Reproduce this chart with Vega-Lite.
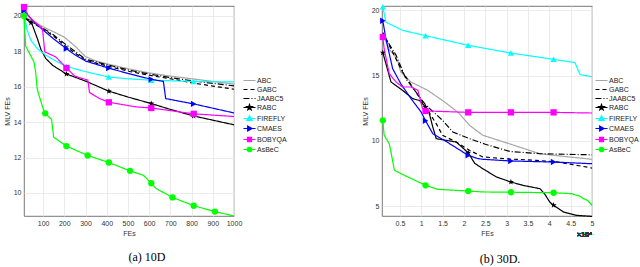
{
  "$schema": "https://vega.github.io/schema/vega-lite/v6.json",
  "padding": {"left": 2, "top": 3, "right": 0, "bottom": 0},
  "background": "white",
  "bounds": "flush",
  "spacing": 148,
  "config": {
    "view": {"stroke": "#555", "strokeWidth": 0.8},
    "axis": {"labelFont": "Liberation Sans", "labelFontSize": 7, "titleFont": "Liberation Sans", "titleFontSize": 7, "titleFontWeight": "normal", "labelColor": "#333", "titleColor": "#333", "domain": false, "ticks": false, "gridColor": "#e6e6e6", "gridWidth": 0.8, "labelPadding": 3, "titlePadding": 3, "labelOverlap": false, "labelFlush": false, "format": "~r"},
    "legend": {"labelFont": "Liberation Sans", "labelFontSize": 7, "labelColor": "#222", "symbolSize": 86, "rowPadding": 0, "labelOffset": 2, "padding": 0, "orient": "none", "title": null},
    "title": {"font": "Liberation Serif", "fontSize": 12, "fontWeight": "normal", "color": "#000", "orient": "bottom", "anchor": "middle", "offset": 16}
  },
  "datasets": {
    "d10": [
      {"a":"ABC","x":10,"y":19.95},{"a":"ABC","x":50,"y":19.72},{"a":"ABC","x":100,"y":19.38},{"a":"ABC","x":150,"y":19.1},{"a":"ABC","x":200,"y":18.8},{"a":"ABC","x":250,"y":18.3},{"a":"ABC","x":300,"y":17.7},{"a":"ABC","x":350,"y":17.45},{"a":"ABC","x":400,"y":17.3},{"a":"ABC","x":500,"y":17.02},{"a":"ABC","x":600,"y":16.78},{"a":"ABC","x":700,"y":16.6},{"a":"ABC","x":800,"y":16.45},{"a":"ABC","x":900,"y":16.3},{"a":"ABC","x":1000,"y":16.15},
      {"a":"GABC","x":10,"y":19.9},{"a":"GABC","x":50,"y":19.62},{"a":"GABC","x":100,"y":19.25},{"a":"GABC","x":150,"y":18.85},{"a":"GABC","x":200,"y":18.35},{"a":"GABC","x":250,"y":17.9},{"a":"GABC","x":300,"y":17.5},{"a":"GABC","x":350,"y":17.33},{"a":"GABC","x":400,"y":17.18},{"a":"GABC","x":500,"y":16.88},{"a":"GABC","x":600,"y":16.65},{"a":"GABC","x":700,"y":16.45},{"a":"GABC","x":800,"y":16.22},{"a":"GABC","x":900,"y":16.04},{"a":"GABC","x":1000,"y":15.86},
      {"a":"JAABC5","x":10,"y":19.9},{"a":"JAABC5","x":50,"y":19.66},{"a":"JAABC5","x":100,"y":19.3},{"a":"JAABC5","x":150,"y":18.92},{"a":"JAABC5","x":200,"y":18.45},{"a":"JAABC5","x":250,"y":18.0},{"a":"JAABC5","x":300,"y":17.56},{"a":"JAABC5","x":350,"y":17.4},{"a":"JAABC5","x":400,"y":17.25},{"a":"JAABC5","x":500,"y":16.95},{"a":"JAABC5","x":600,"y":16.72},{"a":"JAABC5","x":700,"y":16.52},{"a":"JAABC5","x":800,"y":16.34},{"a":"JAABC5","x":900,"y":16.19},{"a":"JAABC5","x":1000,"y":16.05},
      {"a":"RABC","x":10,"y":19.9},{"a":"RABC","x":43,"y":19.62,"m":1},{"a":"RABC","x":50,"y":19.47},{"a":"RABC","x":73,"y":18.72},{"a":"RABC","x":90,"y":18.1},{"a":"RABC","x":113,"y":17.59},{"a":"RABC","x":146,"y":17.2},{"a":"RABC","x":210,"y":16.72,"m":1},{"a":"RABC","x":304,"y":16.3},{"a":"RABC","x":410,"y":15.75,"m":1},{"a":"RABC","x":500,"y":15.42},{"a":"RABC","x":610,"y":15.05,"m":1},{"a":"RABC","x":700,"y":14.72},{"a":"RABC","x":810,"y":14.35,"m":1},{"a":"RABC","x":1000,"y":13.85},
      {"a":"FIREFLY","x":10,"y":20.1,"m":1},{"a":"FIREFLY","x":25,"y":19.2},{"a":"FIREFLY","x":42,"y":18.63},{"a":"FIREFLY","x":73,"y":18.15},{"a":"FIREFLY","x":113,"y":17.78},{"a":"FIREFLY","x":168,"y":17.4},{"a":"FIREFLY","x":210,"y":17.15,"m":1},{"a":"FIREFLY","x":300,"y":16.85},{"a":"FIREFLY","x":410,"y":16.55,"m":1},{"a":"FIREFLY","x":500,"y":16.45},{"a":"FIREFLY","x":610,"y":16.37,"m":1},{"a":"FIREFLY","x":810,"y":16.3,"m":1},{"a":"FIREFLY","x":1000,"y":16.27},
      {"a":"CMAES","x":10,"y":20.3,"m":1},{"a":"CMAES","x":50,"y":19.75},{"a":"CMAES","x":100,"y":19.2},{"a":"CMAES","x":150,"y":18.7},{"a":"CMAES","x":210,"y":18.15,"m":1},{"a":"CMAES","x":250,"y":17.8},{"a":"CMAES","x":300,"y":17.45},{"a":"CMAES","x":410,"y":17.05,"m":1},{"a":"CMAES","x":500,"y":16.75},{"a":"CMAES","x":610,"y":16.42,"m":1},{"a":"CMAES","x":667,"y":16.3},{"a":"CMAES","x":678,"y":15.33},{"a":"CMAES","x":810,"y":15.03,"m":1},{"a":"CMAES","x":1000,"y":14.52},
      {"a":"BOBYQA","x":10,"y":20.5,"m":1},{"a":"BOBYQA","x":34,"y":19.94},{"a":"BOBYQA","x":97,"y":19.28},{"a":"BOBYQA","x":108,"y":17.97},{"a":"BOBYQA","x":160,"y":17.68},{"a":"BOBYQA","x":210,"y":17.06,"m":1},{"a":"BOBYQA","x":250,"y":16.6},{"a":"BOBYQA","x":311,"y":16.37},{"a":"BOBYQA","x":319,"y":15.67},{"a":"BOBYQA","x":367,"y":15.33},{"a":"BOBYQA","x":410,"y":15.12,"m":1},{"a":"BOBYQA","x":541,"y":14.86},{"a":"BOBYQA","x":610,"y":14.8,"m":1},{"a":"BOBYQA","x":810,"y":14.47,"m":1},{"a":"BOBYQA","x":1000,"y":14.32},
      {"a":"AsBeC","x":10,"y":20,"m":1},{"a":"AsBeC","x":18,"y":18.3},{"a":"AsBeC","x":35,"y":17.9},{"a":"AsBeC","x":57,"y":17.4},{"a":"AsBeC","x":65,"y":16.84},{"a":"AsBeC","x":72,"y":15.9},{"a":"AsBeC","x":81,"y":15.5},{"a":"AsBeC","x":102,"y":14.7},{"a":"AsBeC","x":110,"y":14.5,"m":1},{"a":"AsBeC","x":140,"y":14.15},{"a":"AsBeC","x":150,"y":13.15},{"a":"AsBeC","x":210,"y":12.65,"m":1},{"a":"AsBeC","x":310,"y":12.12,"m":1},{"a":"AsBeC","x":410,"y":11.72,"m":1},{"a":"AsBeC","x":510,"y":11.25,"m":1},{"a":"AsBeC","x":573,"y":11.0},{"a":"AsBeC","x":610,"y":10.55,"m":1},{"a":"AsBeC","x":633,"y":10.25},{"a":"AsBeC","x":710,"y":9.75,"m":1},{"a":"AsBeC","x":810,"y":9.28,"m":1},{"a":"AsBeC","x":910,"y":8.95,"m":1},{"a":"AsBeC","x":1000,"y":8.7}
    ],
    "d30": [
      {"a":"ABC","x":0.1,"y":18.2},{"a":"ABC","x":0.25,"y":17.0},{"a":"ABC","x":0.37,"y":16.56},{"a":"ABC","x":0.45,"y":16.1},{"a":"ABC","x":0.52,"y":15.28},{"a":"ABC","x":0.76,"y":14.51},{"a":"ABC","x":1.15,"y":13.88},{"a":"ABC","x":1.54,"y":13.0},{"a":"ABC","x":1.86,"y":12.2},{"a":"ABC","x":2.13,"y":11.2},{"a":"ABC","x":2.44,"y":10.44},{"a":"ABC","x":3.06,"y":9.79},{"a":"ABC","x":3.77,"y":9.03},{"a":"ABC","x":4.4,"y":8.8},{"a":"ABC","x":5.0,"y":8.6},
      {"a":"GABC","x":0.1,"y":18.3},{"a":"GABC","x":0.33,"y":16.8},{"a":"GABC","x":0.56,"y":15.28},{"a":"GABC","x":1.03,"y":12.98},{"a":"GABC","x":1.35,"y":11.33},{"a":"GABC","x":1.5,"y":10.43},{"a":"GABC","x":1.82,"y":9.92},{"a":"GABC","x":2.13,"y":9.29},{"a":"GABC","x":2.44,"y":8.78},{"a":"GABC","x":3.07,"y":8.62},{"a":"GABC","x":3.7,"y":8.52},{"a":"GABC","x":4.17,"y":8.4},{"a":"GABC","x":4.64,"y":8.14},{"a":"GABC","x":5.0,"y":7.93},
      {"a":"JAABC5","x":0.1,"y":18.2},{"a":"JAABC5","x":0.41,"y":16.56},{"a":"JAABC5","x":0.64,"y":14.77},{"a":"JAABC5","x":1.11,"y":12.73},{"a":"JAABC5","x":1.5,"y":11.58},{"a":"JAABC5","x":1.74,"y":10.69},{"a":"JAABC5","x":2.13,"y":10.18},{"a":"JAABC5","x":2.5,"y":9.75},{"a":"JAABC5","x":3.07,"y":9.2},{"a":"JAABC5","x":3.77,"y":9.03},{"a":"JAABC5","x":5.0,"y":8.94},
      {"a":"RABC","x":0.1,"y":16.76,"m":1},{"a":"RABC","x":0.29,"y":14.52},{"a":"RABC","x":0.56,"y":13.88},{"a":"RABC","x":0.8,"y":13.24},{"a":"RABC","x":0.96,"y":13.1},{"a":"RABC","x":1.1,"y":12.6,"m":1},{"a":"RABC","x":1.18,"y":12.22},{"a":"RABC","x":1.27,"y":11.07},{"a":"RABC","x":1.35,"y":10.18},{"a":"RABC","x":1.82,"y":9.92},{"a":"RABC","x":2.1,"y":9.1,"m":1},{"a":"RABC","x":2.25,"y":8.3},{"a":"RABC","x":2.44,"y":7.88},{"a":"RABC","x":2.76,"y":7.25},{"a":"RABC","x":3.1,"y":6.86,"m":1},{"a":"RABC","x":3.39,"y":6.6},{"a":"RABC","x":3.78,"y":6.35},{"a":"RABC","x":3.9,"y":5.9},{"a":"RABC","x":4.01,"y":5.33},{"a":"RABC","x":4.1,"y":5.08,"m":1},{"a":"RABC","x":4.33,"y":4.57},{"a":"RABC","x":4.64,"y":4.31},{"a":"RABC","x":5.0,"y":4.23},
      {"a":"FIREFLY","x":0.1,"y":20.28,"m":1},{"a":"FIREFLY","x":0.17,"y":19.1},{"a":"FIREFLY","x":0.56,"y":18.47},{"a":"FIREFLY","x":1.1,"y":18.06,"m":1},{"a":"FIREFLY","x":2.1,"y":17.32,"m":1},{"a":"FIREFLY","x":3.1,"y":16.73,"m":1},{"a":"FIREFLY","x":4.1,"y":16.25,"m":1},{"a":"FIREFLY","x":4.6,"y":16.0},{"a":"FIREFLY","x":4.72,"y":15.08},{"a":"FIREFLY","x":5.0,"y":14.92},
      {"a":"CMAES","x":0.1,"y":19.2,"m":1},{"a":"CMAES","x":0.17,"y":17.83},{"a":"CMAES","x":0.33,"y":15.53},{"a":"CMAES","x":0.52,"y":14.38},{"a":"CMAES","x":0.76,"y":13.24},{"a":"CMAES","x":1.0,"y":12.2},{"a":"CMAES","x":1.1,"y":11.55,"m":1},{"a":"CMAES","x":1.27,"y":10.56},{"a":"CMAES","x":1.54,"y":10.05},{"a":"CMAES","x":2.1,"y":8.9,"m":1},{"a":"CMAES","x":2.33,"y":8.65},{"a":"CMAES","x":2.44,"y":8.6},{"a":"CMAES","x":3.1,"y":8.47,"m":1},{"a":"CMAES","x":4.1,"y":8.39,"m":1},{"a":"CMAES","x":5.0,"y":8.26},
      {"a":"BOBYQA","x":0.1,"y":17.96,"m":1},{"a":"BOBYQA","x":0.13,"y":17.06},{"a":"BOBYQA","x":0.25,"y":15.15},{"a":"BOBYQA","x":0.41,"y":14.51},{"a":"BOBYQA","x":0.56,"y":14.13},{"a":"BOBYQA","x":0.76,"y":14.13},{"a":"BOBYQA","x":0.92,"y":13.88},{"a":"BOBYQA","x":1.03,"y":12.47},{"a":"BOBYQA","x":1.1,"y":12.3,"m":1},{"a":"BOBYQA","x":2.1,"y":12.19,"m":1},{"a":"BOBYQA","x":3.1,"y":12.19,"m":1},{"a":"BOBYQA","x":4.1,"y":12.19,"m":1},{"a":"BOBYQA","x":5.0,"y":12.14},
      {"a":"AsBeC","x":0.1,"y":11.58,"m":1},{"a":"AsBeC","x":0.13,"y":10.44},{"a":"AsBeC","x":0.25,"y":9.79},{"a":"AsBeC","x":0.29,"y":9.16},{"a":"AsBeC","x":0.37,"y":7.76},{"a":"AsBeC","x":0.6,"y":7.38},{"a":"AsBeC","x":1.1,"y":6.61,"m":1},{"a":"AsBeC","x":1.39,"y":6.3},{"a":"AsBeC","x":2.1,"y":6.17,"m":1},{"a":"AsBeC","x":2.44,"y":6.1},{"a":"AsBeC","x":3.1,"y":6.08,"m":1},{"a":"AsBeC","x":4.1,"y":6.04,"m":1},{"a":"AsBeC","x":4.52,"y":5.97},{"a":"AsBeC","x":4.72,"y":5.77},{"a":"AsBeC","x":4.8,"y":5.59},{"a":"AsBeC","x":4.9,"y":5.45},{"a":"AsBeC","x":5.0,"y":5.08}
    ]
  },
  "resolve": {"scale": {"x": "independent", "y": "independent", "color": "independent", "shape": "independent", "strokeDash": "independent"}, "legend": {"color": "independent"}},
  "hconcat": [
    {
      "name": "L",
      "width": 210, "height": 210,
      "title": {"text": "(a) 10D", "dx": 18},
      "data": {"name": "d10"},
      "encoding": {
        "x": {"field": "x", "type": "quantitative", "scale": {"domain": [10, 1000], "nice": false, "zero": false}, "axis": {"title": "FEs", "values": [100,200,300,400,500,600,700,800,900,1000]}},
        "y": {"field": "y", "type": "quantitative", "scale": {"domain": [8.7, 20.56], "nice": false, "zero": false}, "axis": {"title": "MLV FEs", "values": [10,12,14,16,18,20]}},
        "color": {"field": "a", "type": "nominal", "scale": {"domain": ["ABC","GABC","JAABC5","RABC","FIREFLY","CMAES","BOBYQA","AsBeC"], "range": ["#a6a6a6","#000000","#000000","#000000","#00ffff","#0000ff","#ff00ff","#00ff00"]},
          "legend": {"legendX": 220, "legendY": 69, "encode": {"symbols": {"update": {
            "shape": {"signal": "datum.value==='RABC'?'M-1.3,0H1.3M0,-0.65L0.153,-0.21L0.618,-0.2L0.247,0.08L0.382,0.526L0,0.26L-0.382,0.526L-0.247,0.08L-0.618,-0.2L-0.153,-0.21Z':datum.value==='FIREFLY'?'M-1.3,0H1.3M0,-0.6L0.55,0.4L-0.55,0.4Z':datum.value==='CMAES'?'M-1.3,0H1.3M-0.4,-0.55L0.6,0L-0.4,0.55Z':datum.value==='BOBYQA'?'M-1.3,0H1.3M-0.45,-0.45H0.45V0.45H-0.45Z':datum.value==='AsBeC'?'M-1.3,0H1.3M0.5,0A0.5,0.5,0,1,1,-0.5,0A0.5,0.5,0,1,1,0.5,0Z':'M-1.3,0H1.3'"},
            "stroke": {"signal": "datum.value==='ABC'?'#a6a6a6':datum.value==='FIREFLY'?'#00ffff':datum.value==='CMAES'?'#0000ff':datum.value==='BOBYQA'?'#ff00ff':datum.value==='AsBeC'?'#00ff00':'#000000'"},
            "fill": {"signal": "datum.value==='ABC'?'#a6a6a6':datum.value==='FIREFLY'?'#00ffff':datum.value==='CMAES'?'#0000ff':datum.value==='BOBYQA'?'#ff00ff':datum.value==='AsBeC'?'#00ff00':'#000000'"},
            "strokeDash": {"signal": "datum.value==='GABC'?[3,2]:datum.value==='JAABC5'?[4,1.5,1,1.5]:[]"},
            "strokeWidth": {"value": 1.1},
            "opacity": {"value": 1}
          }}}}}
      },
      "layer": [
        {"mark": {"type": "line", "strokeWidth": 1.2},
         "encoding": {"strokeDash": {"field": "a", "type": "nominal", "legend": null, "scale": {"domain": ["ABC","GABC","JAABC5","RABC","FIREFLY","CMAES","BOBYQA","AsBeC"], "range": [[1,0],[4,3],[6,2,1,2],[1,0],[1,0],[1,0],[1,0],[1,0]]}}}},
        {"transform": [{"filter": "datum.m == 1"}],
         "mark": {"type": "point", "filled": true, "size": 40, "opacity": 1},
         "encoding": {"shape": {"field": "a", "type": "nominal", "legend": null, "scale": {"domain": ["RABC","FIREFLY","CMAES","BOBYQA","AsBeC"], "range": ["M0,-1L0.235,-0.324L0.951,-0.309L0.38,0.124L0.588,0.809L0,0.4L-0.588,0.809L-0.38,0.124L-0.951,-0.309L-0.235,-0.324Z","triangle-up","triangle-right","square","circle"]}}}}
      ]
    },
    {
      "name": "R",
      "width": 210, "height": 210,
      "title": {"text": "(b) 30D.", "dx": 13},
      "data": {"name": "d30"},
      "encoding": {
        "x": {"field": "x", "type": "quantitative", "scale": {"domain": [0.08, 5], "nice": false, "zero": false}, "axis": {"title": "FEs", "values": [0.5,1,1.5,2,2.5,3,3.5,4,4.5,5]}},
        "y": {"field": "y", "type": "quantitative", "scale": {"domain": [4.26, 20.33], "nice": false, "zero": false}, "axis": {"title": "MLV FEs", "values": [5,10,15,20]}},
        "color": {"field": "a", "type": "nominal", "scale": {"domain": ["ABC","GABC","JAABC5","RABC","FIREFLY","CMAES","BOBYQA","AsBeC"], "range": ["#a6a6a6","#000000","#000000","#000000","#00ffff","#0000ff","#ff00ff","#00ff00"]},
          "legend": {"legendX": 214, "legendY": 69, "encode": {"symbols": {"update": {
            "shape": {"signal": "datum.value==='RABC'?'M-1.3,0H1.3M0,-0.65L0.153,-0.21L0.618,-0.2L0.247,0.08L0.382,0.526L0,0.26L-0.382,0.526L-0.247,0.08L-0.618,-0.2L-0.153,-0.21Z':datum.value==='FIREFLY'?'M-1.3,0H1.3M0,-0.6L0.55,0.4L-0.55,0.4Z':datum.value==='CMAES'?'M-1.3,0H1.3M-0.4,-0.55L0.6,0L-0.4,0.55Z':datum.value==='BOBYQA'?'M-1.3,0H1.3M-0.45,-0.45H0.45V0.45H-0.45Z':datum.value==='AsBeC'?'M-1.3,0H1.3M0.5,0A0.5,0.5,0,1,1,-0.5,0A0.5,0.5,0,1,1,0.5,0Z':'M-1.3,0H1.3'"},
            "stroke": {"signal": "datum.value==='ABC'?'#a6a6a6':datum.value==='FIREFLY'?'#00ffff':datum.value==='CMAES'?'#0000ff':datum.value==='BOBYQA'?'#ff00ff':datum.value==='AsBeC'?'#00ff00':'#000000'"},
            "fill": {"signal": "datum.value==='ABC'?'#a6a6a6':datum.value==='FIREFLY'?'#00ffff':datum.value==='CMAES'?'#0000ff':datum.value==='BOBYQA'?'#ff00ff':datum.value==='AsBeC'?'#00ff00':'#000000'"},
            "strokeDash": {"signal": "datum.value==='GABC'?[3,2]:datum.value==='JAABC5'?[4,1.5,1,1.5]:[]"},
            "strokeWidth": {"value": 1.1},
            "opacity": {"value": 1}
          }}}}}
      },
      "layer": [
        {"mark": {"type": "line", "strokeWidth": 1.2},
         "encoding": {"strokeDash": {"field": "a", "type": "nominal", "legend": null, "scale": {"domain": ["ABC","GABC","JAABC5","RABC","FIREFLY","CMAES","BOBYQA","AsBeC"], "range": [[1,0],[4,3],[6,2,1,2],[1,0],[1,0],[1,0],[1,0],[1,0]]}}}},
        {"transform": [{"filter": "datum.m == 1"}],
         "mark": {"type": "point", "filled": true, "size": 40, "opacity": 1},
         "encoding": {"shape": {"field": "a", "type": "nominal", "legend": null, "scale": {"domain": ["RABC","FIREFLY","CMAES","BOBYQA","AsBeC"], "range": ["M0,-1L0.235,-0.324L0.951,-0.309L0.38,0.124L0.588,0.809L0,0.4L-0.588,0.809L-0.38,0.124L-0.951,-0.309L-0.235,-0.324Z","triangle-up","triangle-right","square","circle"]}}}},
        {"mark": {"type": "text", "text": "×10⁴", "align": "right", "baseline": "top", "dy": 15, "fontSize": 7, "font": "Liberation Sans", "color": "#333"},
         "encoding": {"x": {"datum": 5}, "y": {"datum": 4.26}, "color": {"value": "#333"}}}
      ]
    }
  ]
}
